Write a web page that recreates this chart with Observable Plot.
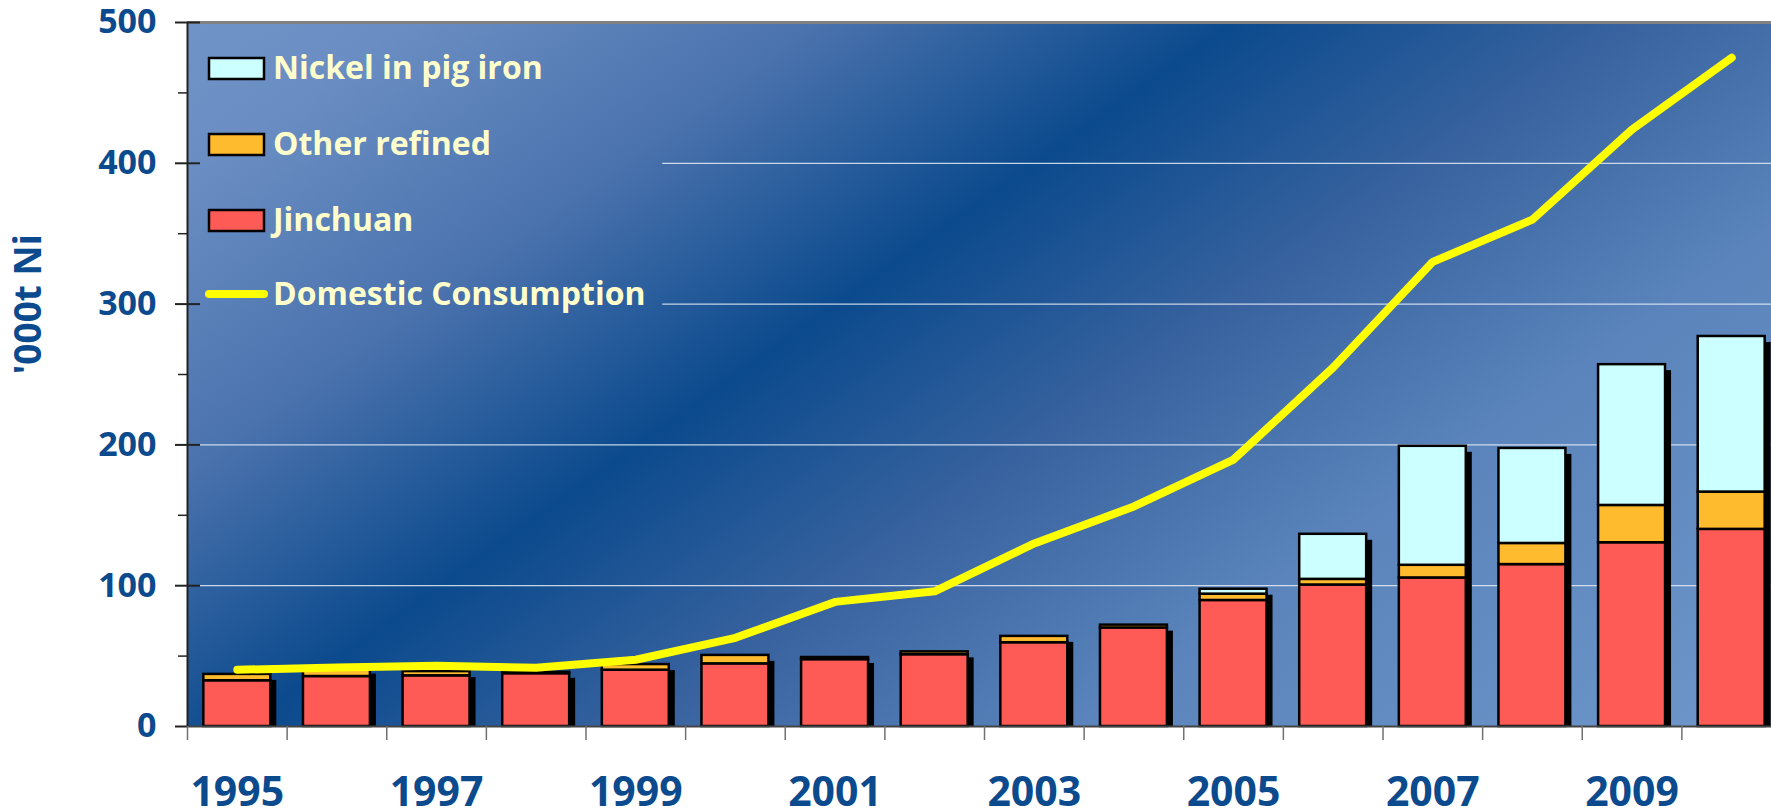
<!DOCTYPE html>
<html>
<head>
<meta charset="utf-8">
<script src="https://cdn.jsdelivr.net/npm/d3@7"></script>
<script src="https://cdn.jsdelivr.net/npm/@observablehq/plot@0.6"></script>
<style>
  html, body { margin: 0; padding: 0; background: #ffffff; overflow: hidden; }
  #chart svg { display: block; }
</style>
</head>
<body>
<div id="chart"></div>
<script>
// ---------------- DATA ----------------
const years = [1995, 1996, 1997, 1998, 1999, 2000, 2001, 2002, 2003, 2004, 2005, 2006, 2007, 2008, 2009, 2010];
const jinchuan     = [32.5, 35.5, 36, 37.5, 40, 44.5, 47.5, 51, 59.5, 70, 89.5, 100.5, 105.5, 115, 130.5, 140];
const otherRefined = [4.5, 6, 3, 1, 4, 6, 1.5, 2, 4.5, 2, 4.5, 4, 9, 15, 26.5, 26.5];
const pigIron      = [0, 0, 0, 0, 0, 0, 0, 0, 0, 0, 3.5, 32, 84.5, 67.5, 100, 110.5];
const consumption  = [40.3, 41.9, 43.1, 41.7, 47.4, 63, 88.5, 96, 130, 156.3, 189.6, 255, 330, 360, 424, 475];

const seriesNames  = ["Jinchuan", "Other refined", "Nickel in pig iron"];
const seriesColors = ["#ff5b56", "#ffbb2e", "#ccffff"];
const lineName  = "Domestic Consumption";
const lineColor = "#ffff00";

const yTicksMajor = [0, 100, 200, 300, 400, 500];
const yTicksMinor = [50, 150, 250, 350, 450];
const xTickLabels = [1995, 1997, 1999, 2001, 2003, 2005, 2007, 2009];
const yTitle = "'000t Ni";

// ---------------- LAYOUT / STYLE ----------------
const W = 1771, H = 811;
const FONT = "'Open Sans', 'Noto Sans', sans-serif";
const BLUE = "#0c4a8e";
const xDomain = [years[0] - 0.5, years[years.length - 1] + 0.5];
const barHalf = 0.336;        // half bar width, in year units
const innerTick = 0.13;       // inner part of y major ticks, in year units
const gridStart = xDomain[0] + 0.13;
const gridStartUnderLegend = 1999.27;

// build stacked rows from the series arrays
const seriesValues = [jinchuan, otherRefined, pigIron];
const rows = [];
const totals = [];
years.forEach((yr, i) => {
  let base = 0;
  seriesValues.forEach((vals, s) => {
    const v = vals[i];
    if (v > 0) rows.push({year: yr, series: seriesNames[s], y1: base, y2: base + v});
    base += v;
  });
  totals.push({year: yr, total: base});
});
const lineRows = years.map((yr, i) => ({year: yr, value: consumption[i]}));
const boundaries = years.map(y => y - 0.5);

const plot = Plot.plot({
  width: W,
  height: H,
  marginTop: 22,
  marginBottom: 85,
  marginLeft: 187,
  marginRight: 0,
  style: {fontFamily: FONT, background: "transparent", overflow: "hidden"},
  x: {type: "linear", domain: xDomain, range: [187, 1781], label: null},
  y: {type: "linear", domain: [0, 500], label: null},
  color: {domain: seriesNames, range: seriesColors},
  marks: [
    Plot.frame({fill: "url(#bgGrad)", stroke: "none"}),
    // gridlines
    Plot.ruleY([100, 200], {x1: gridStart, x2: xDomain[1], stroke: "#e4ecf7", strokeOpacity: 0.85, strokeWidth: 1.3}),
    Plot.ruleY([300, 400], {x1: gridStartUnderLegend, x2: xDomain[1], stroke: "#e4ecf7", strokeOpacity: 0.85, strokeWidth: 1.3}),
    // bar shadows
    Plot.rectY(totals, {
      x1: d => d.year - barHalf, x2: d => d.year + barHalf,
      y1: 0, y2: "total", fill: "#000000", dx: 6, dy: 6, insetBottom: 6
    }),
    // stacked bars
    Plot.rectY(rows, {
      x1: d => d.year - barHalf, x2: d => d.year + barHalf,
      y1: "y1", y2: "y2", fill: "series", stroke: "#000000", strokeWidth: 2.5
    }),
    // consumption line
    Plot.line(lineRows, {
      x: "year", y: "value", stroke: lineColor, strokeWidth: 8,
      strokeLinecap: "round", strokeLinejoin: "round"
    }),
    // frame borders and axis lines
    Plot.ruleY([500], {stroke: "#808080", strokeWidth: 3}),
    Plot.ruleY([0], {stroke: "#444444", strokeWidth: 2}),
    Plot.ruleX([xDomain[0]], {stroke: "#222222", strokeWidth: 2}),
    Plot.ruleY(yTicksMajor.slice(1), {x1: xDomain[0], x2: xDomain[0] + innerTick, stroke: "#222222", strokeWidth: 2}),
    // y axis
    Plot.axisY({ticks: yTicksMajor, tickSize: 12, tickFormat: () => "", stroke: "#222222", strokeWidth: 2, label: null}),
    Plot.axisY({ticks: yTicksMinor, tickSize: 9, tickFormat: () => "", stroke: "#222222", strokeWidth: 1.5, label: null}),
    Plot.axisY({ticks: yTicksMajor, tickSize: 0, tickPadding: 31, tickFormat: d => String(d),
      fontSize: 34, fontWeight: 700, color: BLUE, label: null}),
    // x axis
    Plot.axisX({ticks: boundaries, tickSize: 14, tickFormat: () => "", stroke: "#707070", strokeWidth: 1.5, label: null}),
    Plot.axisX({ticks: xTickLabels, tickSize: 0, tickPadding: 50, tickFormat: d => String(d),
      fontSize: 41, fontWeight: 700, color: BLUE, label: null}),
    // y axis title
    Plot.text([yTitle], {text: d => d, frameAnchor: "left", rotate: -90, dx: -158,
      fontSize: 37, fontWeight: 700, fill: BLUE})
  ]
});

document.getElementById("chart").appendChild(plot);

// background gradient
const svg = d3.select(plot);
const defs = svg.insert("defs", ":first-child");
const grad = defs.append("linearGradient")
  .attr("id", "bgGrad")
  .attr("gradientUnits", "userSpaceOnUse")
  .attr("x1", 212).attr("y1", -356).attr("x2", 1256).attr("y2", 1112);
[
  [0, "#7d9fd0"], [0.233, "#6a8ec3"], [0.367, "#4a72ad"], [0.5, "#0b4a8d"],
  [0.633, "#3a64a0"], [0.767, "#5a84bb"], [1, "#6f97cb"]
].forEach(([o, c]) => grad.append("stop").attr("offset", o).attr("stop-color", c));

// legend inside the plot
const legendItems = [
  {name: seriesNames[2], color: seriesColors[2], type: "rect"},
  {name: seriesNames[1], color: seriesColors[1], type: "rect"},
  {name: seriesNames[0], color: seriesColors[0], type: "rect"},
  {name: lineName, color: lineColor, type: "line"}
];
const legendY = [68.5, 144.5, 220.5, 294];
const lg = svg.append("g")
  .attr("font-family", FONT).attr("font-weight", 700).attr("font-size", 32)
  .attr("fill", "#ffffcc").attr("text-anchor", "start");
legendItems.forEach((d, i) => {
  const cy = legendY[i];
  if (d.type === "rect") {
    lg.append("rect").attr("x", 209).attr("y", cy - 10.5).attr("width", 55).attr("height", 21)
      .attr("fill", d.color).attr("stroke", "#000").attr("stroke-width", 2.5);
  } else {
    lg.append("line").attr("x1", 209).attr("x2", 264).attr("y1", cy).attr("y2", cy)
      .attr("stroke", d.color).attr("stroke-width", 8).attr("stroke-linecap", "round");
  }
  lg.append("text").attr("x", 273).attr("y", cy).attr("dy", "0.34em")
    .attr("text-anchor", "start").text(d.name);
});
</script>
</body>
</html>
